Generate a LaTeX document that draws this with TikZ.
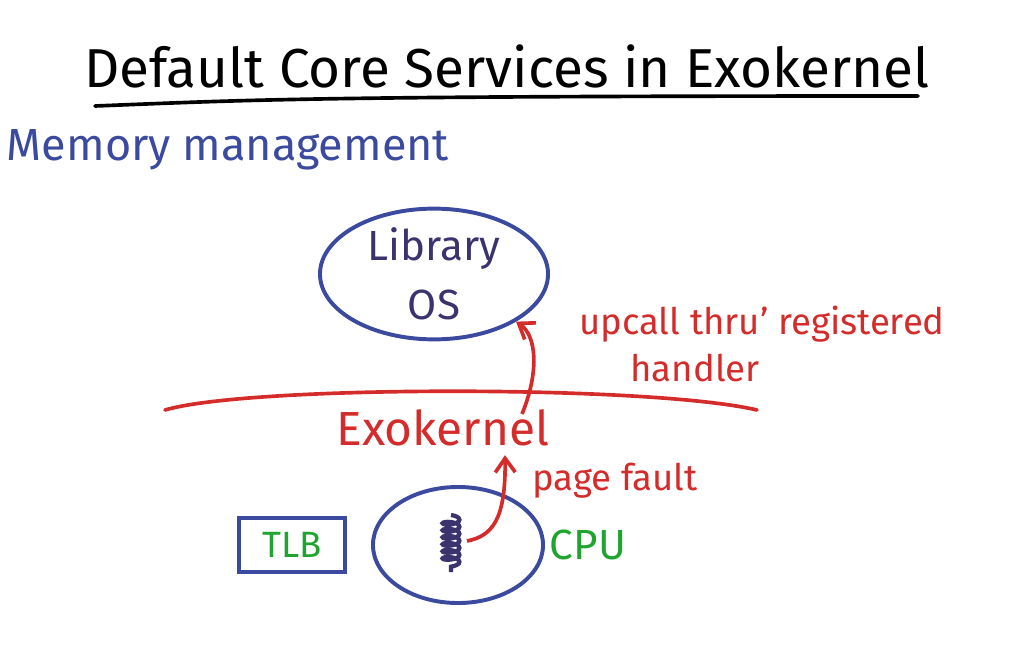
\documentclass[tikz,border=0pt]{standalone}
\usepackage{fontspec}
\setmainfont{Fira Sans}
\usetikzlibrary{arrows.meta,positioning,shapes.geometric,decorations.pathmorphing,calc}
\definecolor{penblue}{HTML}{3B4A9E}
\definecolor{penred}{HTML}{D42B2B}
\definecolor{pengreen}{HTML}{1FA52F}
\definecolor{penpurple}{HTML}{3A336E}
\tikzset{
  oval/.style={ellipse,draw=penblue,line width=2.8pt,inner sep=0pt,align=center},
  redtext/.style={text=penred,font=\fontsize{26}{30}\selectfont},
  redarrow/.style={-{Straight Barb[length=3.5mm,width=5mm]},line width=2.6pt,draw=penred},
  penline/.style={line width=2.6pt,line cap=round}
}

\begin{document}
\begin{tikzpicture}[x=0.025cm,y=-0.025cm]
\useasboundingbox (0,0) rectangle (1010,662);
% title
\node[font=\fontsize{39}{44}\selectfont] (title) at (507,66) {Default Core Services in Exokernel};
\draw[penline] (95,106) .. controls (250,100) and (300,96) .. (918,96);
\node[anchor=west,text=penblue,font=\fontsize{32}{40}\selectfont] (memmgmt) at (2,150) {Memory management};
% library OS
\node[oval,minimum width=5.7cm,minimum height=2.5cm,text=penpurple,
  font=\fontsize{30}{42}\selectfont] (libos) at (434,274) {Library\\OS};
\node[redtext] (upcall) at (762,324) {upcall thru' registered};
\node[redtext] (handler) at (695,368) {handler};
% exokernel
\draw[penline,draw=penred] (165,410) .. controls (250,385) and (650,385) .. (757,410);
\node[text=penred,font=\fontsize{34}{40}\selectfont] (exo) at (443,428) {Exokernel};
\coordinate (upstart) at (522,414);
\draw[redarrow] (upstart) .. controls (540,370) and (536,335) .. (libos.south east);
% cpu
\node[oval,minimum width=4.25cm,minimum height=2.9cm] (cpu) at (458,545) {};
\node[right=0pt of cpu,text=pengreen,font=\fontsize{30}{36}\selectfont] (cpulabel) {CPU};
\node[draw=penblue,line width=2.8pt,minimum width=2.65cm,minimum height=1.33cm,
  left=0.6cm of cpu,text=pengreen,font=\fontsize{26}{30}\selectfont] (tlb) {TLB};
\draw[penpurple,line width=3pt,decorate,
  decoration={coil,aspect=0.35,segment length=5pt,amplitude=6pt}] (451,515) -- (451,572);
\coordinate (proc) at (467,541);
\draw[redarrow] (proc) .. controls (492,536) and (506,520) .. ($(exo.south)+(62,4)$);
\node[redtext] (fault) at (615,481) {page fault};
\end{tikzpicture}
\end{document}
